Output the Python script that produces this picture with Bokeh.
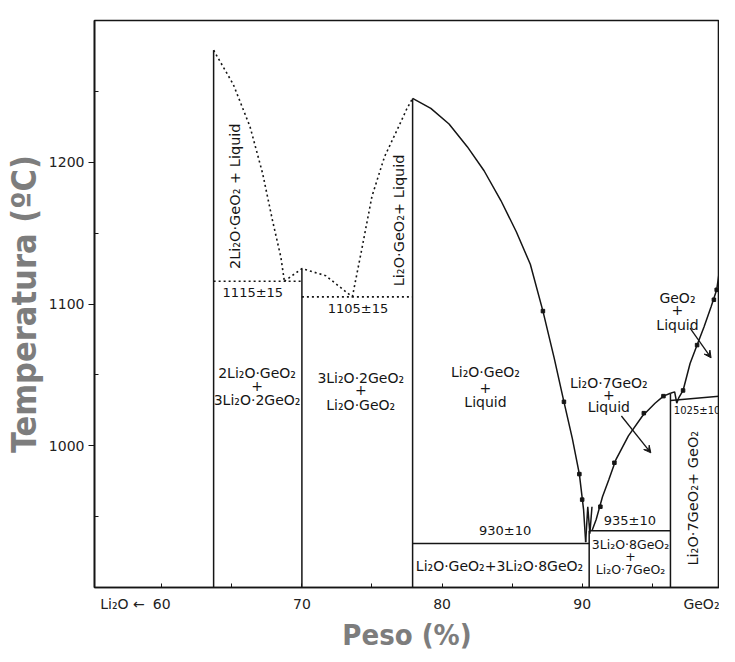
from bokeh.plotting import figure
from bokeh.models import Range1d, FixedTicker, Arrow, VeeHead
from bokeh.core.properties import value
from bokeh.embed import file_html
from bokeh.resources import INLINE

# ---------------- data (wt% GeO2, temperature in C) ----------------
# compound vertical lines
comp_x = [63.7, 70.0, 77.9, 90.5, 96.3]
comp_top = [1279, 1125, 1245, 940, 1037]

# dotted liquidus branches
liq1_x = [63.7, 65.1, 66.3, 67.2, 67.9, 68.5, 68.75]
liq1_t = [1279, 1255, 1225, 1192, 1159, 1133, 1116]
liq2_x = [68.75, 70.0, 71.7, 73.6]
liq2_t = [1116, 1125, 1120, 1105]
liq3_x = [73.6, 74.3, 75.0, 75.9, 76.9, 77.5, 77.9]
liq3_t = [1105, 1140, 1176, 1204, 1225, 1238, 1245]

# dotted eutectic lines
eut1_x = [63.7, 70.0]; eut1_t = [1116, 1116]
eut2_x = [70.0, 77.9]; eut2_t = [1105, 1105]

# solid liquidus Li2O.GeO2
liq4_x = [77.9, 79.2, 80.5, 81.8, 83.0, 84.2, 85.3, 86.3, 87.2, 88.0, 88.7, 89.3, 89.8, 90.1, 90.25]
liq4_t = [1245, 1238, 1227, 1211, 1194, 1173, 1151, 1128, 1095, 1062, 1031, 1005, 980, 955, 932]

# small cusp near 3Li2O.8GeO2
cusp_x = [90.25, 90.4, 90.55, 90.7]
cusp_t = [932, 957, 938, 957]

# solid liquidus Li2O.7GeO2
liq5_x = [90.7, 91.0, 91.45, 91.9, 92.4, 93.3, 94.3, 95.2, 95.8, 96.3]
liq5_t = [940, 948, 964, 976, 990, 1007, 1021, 1030, 1035, 1037]

# small hook and GeO2 liquidus
liq6_x = [96.3, 96.6, 96.75, 96.9, 97.2, 97.7, 98.2, 98.7, 99.2, 99.6, 99.8]
liq6_t = [1037, 1038, 1030, 1034, 1039, 1058, 1071, 1084, 1098, 1110, 1124]

# solid horizontal lines
h930_x = [77.9, 90.5]; h930_t = [931, 931]
h935_x = [90.5, 96.3]; h935_t = [940, 940]
h1025_x = [96.3, 99.8]; h1025_t = [1032, 1035]

# experimental points
pts_x = [87.2, 88.7, 89.8, 90.0, 91.3, 92.3, 94.4, 95.8, 97.2, 98.2, 99.4, 99.6]
pts_t = [1095, 1031, 980, 962, 957, 988, 1023, 1035, 1039, 1071, 1103, 1110]

# leader arrows
arr_x0 = [92.8, 97.7]; arr_t0 = [1021, 1083]
arr_x1 = [94.9, 99.2]; arr_t1 = [995, 1062]

# labels
rot_text = ["2Li\u2082O\u00b7GeO\u2082 + Liquid", "Li\u2082O\u00b7GeO\u2082+ Liquid", "Li\u2082O\u00b77GeO\u2082+ GeO\u2082"]
rot_x = [65.2, 76.9, 97.9]
rot_t = [1176, 1159, 963]

lab_text = ["2Li\u2082O\u00b7GeO\u2082", "+", "3Li\u2082O\u00b72GeO\u2082",
            "3Li\u2082O\u00b72GeO\u2082", "+", "Li\u2082O\u00b7GeO\u2082",
            "Li\u2082O\u00b7GeO\u2082", "+", "Liquid",
            "Li\u2082O\u00b77GeO\u2082", "+", "Liquid",
            "GeO\u2082", "+", "Liquid",
            "Li\u2082O\u00b7GeO\u2082+3Li\u2082O\u00b78GeO\u2082"]
lab_x = [66.8, 66.8, 66.8,
         74.2, 74.2, 74.2,
         83.1, 83.1, 83.1,
         91.9, 91.9, 91.9,
         96.8, 96.8, 96.8,
         84.1]
lab_t = [1051, 1042, 1032,
         1048, 1039, 1029,
         1052, 1041, 1031,
         1044, 1036, 1027,
         1104, 1096, 1085,
         915]

box_text = ["3Li\u2082O\u00b78GeO\u2082", "+", "Li\u2082O\u00b77GeO\u2082"]
box_x = [93.45, 93.45, 93.45]
box_t = [930, 922, 913]

num_text = ["1115\u00b115", "1105\u00b115", "930\u00b110", "935\u00b110"]
num_x = [66.5, 74.0, 84.5, 93.4]
num_t = [1108, 1097, 940, 947]

small_text = ["1025\u00b110"]
small_x = [98.2]
small_t = [1025]

x_ticks = [57.2, 60, 70, 80, 90, 98.9]
x_tick_labels = ["Li\u2082O \u2190", "60", "70", "80", "90", "GeO\u2082"]
x_minor = [60, 65, 70, 75, 80, 85, 90, 95]
y_ticks = [1000, 1100, 1200]
y_minor = [950, 1050, 1150, 1250]

# ---------------- figure ----------------
INK = "#151515"
FONT = "DejaVu Sans"

p = figure(width=719, height=654, output_backend="svg", toolbar_location=None,
           x_range=Range1d(55.2, 99.8), y_range=Range1d(900, 1300),
           min_border_left=85, min_border_right=0, min_border_top=20, min_border_bottom=66)
p.grid.visible = False
p.outline_line_color = INK
p.outline_line_width = 1.6
p.background_fill_color = "white"
p.border_fill_color = "white"

# axes
p.xaxis.ticker = FixedTicker(ticks=x_ticks, minor_ticks=x_minor)
p.xaxis.major_label_overrides = {t: l for t, l in zip(x_ticks, x_tick_labels)}
p.xaxis.major_tick_in = 0
p.xaxis.major_tick_out = 0
p.xaxis.minor_tick_in = 4
p.xaxis.minor_tick_out = 0
p.xaxis.axis_line_color = INK
p.xaxis.axis_line_width = 1.6
p.xaxis.minor_tick_line_color = INK
p.xaxis.major_label_text_font = FONT
p.xaxis.major_label_text_font_size = "14px"
p.xaxis.major_label_text_color = "#222222"
p.xaxis.major_label_standoff = 8
p.xaxis.axis_label = "Peso (%)"
p.xaxis.axis_label_text_font = "DejaVu Sans Condensed"
p.xaxis.axis_label_text_font_size = "29px"
p.xaxis.axis_label_text_font_style = "bold"
p.xaxis.axis_label_text_color = "#7d7d7d"
p.xaxis.axis_label_standoff = 3

p.yaxis.ticker = FixedTicker(ticks=y_ticks, minor_ticks=y_minor)
p.yaxis.major_tick_in = 0
p.yaxis.major_tick_out = 6
p.yaxis.minor_tick_in = 4
p.yaxis.minor_tick_out = 0
p.yaxis.axis_line_color = INK
p.yaxis.axis_line_width = 1.6
p.yaxis.major_tick_line_color = INK
p.yaxis.minor_tick_line_color = INK
p.yaxis.major_label_text_font = FONT
p.yaxis.major_label_text_font_size = "14px"
p.yaxis.major_label_text_color = "#222222"
p.yaxis.major_label_standoff = 4
p.yaxis.axis_label = "Temperatura (\u00baC)"
p.yaxis.axis_label_text_font = "DejaVu Sans Condensed"
p.yaxis.axis_label_text_font_size = "34px"
p.yaxis.axis_label_text_font_style = "bold"
p.yaxis.axis_label_text_color = "#7d7d7d"
p.yaxis.axis_label_standoff = 2

# vertical compound lines
p.segment(x0=comp_x, y0=[900] * len(comp_x), x1=comp_x, y1=comp_top,
          line_color=INK, line_width=1.5)

# dotted lines
for xs, ts in [(liq1_x, liq1_t), (liq2_x, liq2_t), (liq3_x, liq3_t),
               (eut1_x, eut1_t), (eut2_x, eut2_t)]:
    p.line(xs, ts, line_color=INK, line_width=1.6, line_dash="2 3")

# solid curves and lines
for xs, ts in [(liq4_x, liq4_t), (cusp_x, cusp_t), (liq5_x, liq5_t), (liq6_x, liq6_t),
               (h930_x, h930_t), (h935_x, h935_t), (h1025_x, h1025_t)]:
    p.line(xs, ts, line_color=INK, line_width=1.5)

p.scatter(pts_x, pts_t, marker="square", size=3.5, color=INK)

for x0, t0, x1, t1 in zip(arr_x0, arr_t0, arr_x1, arr_t1):
    p.add_layout(Arrow(end=VeeHead(size=7, line_color=INK, fill_color=INK, line_width=1),
                       x_start=x0, y_start=t0, x_end=x1, y_end=t1,
                       line_color=INK, line_width=1.3))

# texts
p.text(x=rot_x, y=rot_t, text=rot_text, angle=1.5708, text_font=value(FONT),
       text_font_size="14.5px", text_align="center", text_baseline="middle", text_color=INK)
p.text(x=lab_x, y=lab_t, text=lab_text, text_font=value(FONT),
       text_font_size="14px", text_align="center", text_baseline="middle", text_color=INK)
p.text(x=box_x, y=box_t, text=box_text, text_font=value(FONT),
       text_font_size="12.5px", text_align="center", text_baseline="middle", text_color=INK)
p.text(x=num_x, y=num_t, text=num_text, text_font=value(FONT),
       text_font_size="13px", text_align="center", text_baseline="middle", text_color=INK)
p.text(x=small_x, y=small_t, text=small_text, text_font=value(FONT),
       text_font_size="10px", text_align="center", text_baseline="middle", text_color=INK)

open("out.html", "w").write(file_html(p, INLINE))
